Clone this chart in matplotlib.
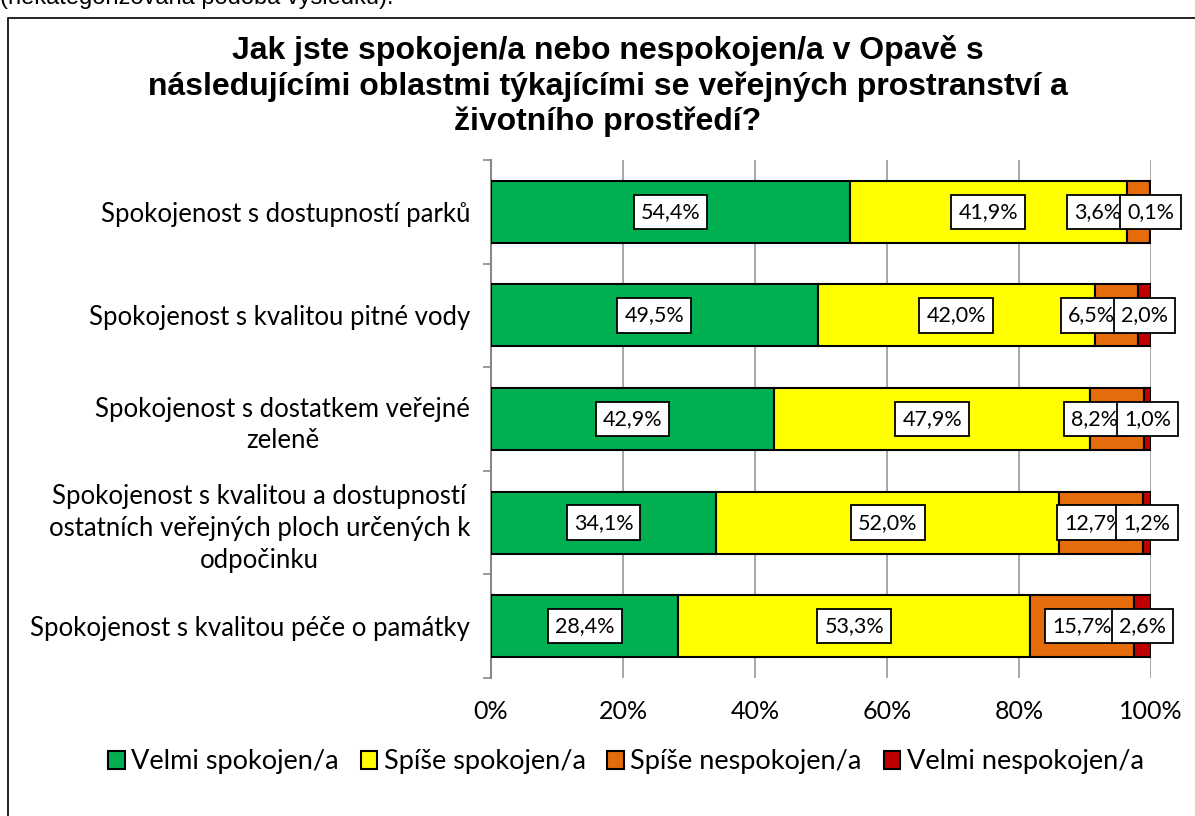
import numpy as np
import matplotlib.pyplot as plt
from matplotlib.patches import Rectangle

# Data
categories = [
    "Spokojenost s dostupností parků",
    "Spokojenost s kvalitou pitné vody",
    "Spokojenost s dostatkem veřejné\nzeleně",
    "Spokojenost s kvalitou a dostupností\nostatních veřejných ploch určených k\nodpočinku",
    "Spokojenost s kvalitou péče o památky",
]
velmi_spokojen = [54.4, 49.5, 42.9, 34.1, 28.4]
spise_spokojen = [41.9, 42.0, 47.9, 52.0, 53.3]
spise_nespokojen = [3.6, 6.5, 8.2, 12.7, 15.7]
velmi_nespokojen = [0.1, 2.0, 1.0, 1.2, 2.6]
series_names = ["Velmi spokojen/a", "Spíše spokojen/a", "Spíše nespokojen/a", "Velmi nespokojen/a"]
colors = ["#00B050", "#FFFF00", "#E46C0A", "#C00000"]

body_font = ["Lato", "DejaVu Sans"]
plt.rcParams["font.family"] = body_font

fig = plt.figure(figsize=(11.95, 8.16), dpi=100)
ax = fig.add_axes([491 / 1195, 1 - 678 / 816, 660 / 1195, 518 / 816])

series = [velmi_spokojen, spise_spokojen, spise_nespokojen, velmi_nespokojen]
y = np.arange(len(categories))
left = np.zeros(len(categories))
centers = []
for vals, name, col in zip(series, series_names, colors):
    vals = np.array(vals)
    ax.barh(y, vals, left=left, height=0.6, color=col, edgecolor="black",
            linewidth=1.5, label=name, zorder=3)
    centers.append(left + vals / 2)
    left = left + vals

# data labels
box = dict(boxstyle="square,pad=0.33", facecolor="white", edgecolor="black", linewidth=1.3)
for i in range(len(categories)):
    for s, vals in enumerate(series):
        cx = centers[s][i]
        if s == 2:
            cx = min(cx, centers[3][i] - 8.0)
        ax.text(cx, y[i], f"{vals[i]:.1f}%".replace(".", ","), ha="center", va="center",
                fontsize=15.5, bbox=box, zorder=5 + s)

ax.set_xlim(0, 100)
ax.set_ylim(len(categories) - 0.5, -0.5)
ax.set_xticks(np.arange(0, 101, 20))
ax.set_xticklabels([f"{v}%" for v in range(0, 101, 20)], fontsize=18)
ax.tick_params(axis="x", length=0, pad=16)
ax.set_yticks(y)
ax.set_yticklabels(categories, fontsize=18.5)
for lbl in ax.get_yticklabels():
    lbl.set_multialignment("center")
    lbl.set_linespacing(1.35)
ax.tick_params(axis="y", which="major", length=0, pad=15)
ax.set_yticks(np.arange(-0.5, len(categories), 1), minor=True)
ax.tick_params(axis="y", which="minor", length=6, color="#888888", width=1.2)
ax.grid(axis="x", color="#999999", linewidth=1.2, zorder=0)
for sp in ["top", "right", "bottom"]:
    ax.spines[sp].set_visible(False)
ax.spines["left"].set_color("#888888")
ax.spines["left"].set_linewidth(1.5)

fig.text(608 / 1195, 1 - 86 / 816,
         "Jak jste spokojen/a nebo nespokojen/a v Opavě s\n"
         "následujícími oblastmi týkajícími se veřejných prostranství a\n"
         "životního prostředí?",
         ha="center", va="center", fontsize=23, fontweight="bold",
         family=["Liberation Sans", "DejaVu Sans"], linespacing=1.2)

leg = fig.legend(loc="center", bbox_to_anchor=(626 / 1195, 1 - 762 / 816), ncol=4,
                 frameon=False, fontsize=19.5, handlelength=0.6, handleheight=0.6,
                 handletextpad=0.25, columnspacing=0.8)

# chart border and cut-off caption above
fig.patches.append(Rectangle((8 / 1195, -0.1), 1.2, 1.1 - 18 / 816, transform=fig.transFigure,
                             fill=False, edgecolor="black", linewidth=1.2, zorder=0))
fig.text(0.0, 1 - 4 / 816, "(nekategorizovaná podoba výsledku).", ha="left", va="baseline",
         fontsize=17, family=["Liberation Sans", "DejaVu Sans"])

fig.savefig("out.png", dpi=100)
